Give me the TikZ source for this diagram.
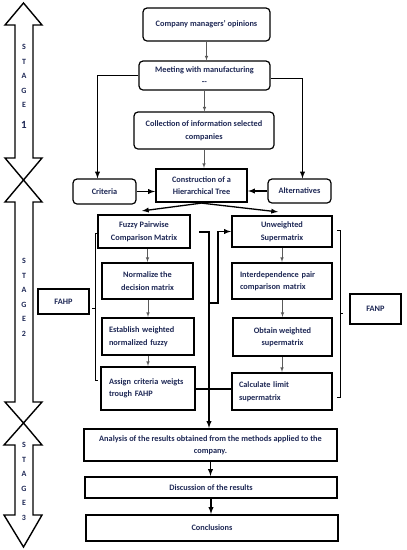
\documentclass[tikz,border=0pt]{standalone}
\usepackage{fontspec}
\setmainfont{Carlito}
\definecolor{ink}{RGB}{30, 40, 85}
\definecolor{arrowgray}{RGB}{90, 90, 90}

\begin{document}
\begin{tikzpicture}[x=1pt, y=-1pt,
  every node/.style={font=\bfseries\fontsize{8.3}{12.5}\selectfont, text=ink,
    align=center, inner sep=2pt},
  roundbox/.style={draw, rounded corners=4pt, line width=1.2pt}, % caixas arredondadas
  heavybox/.style={draw, line width=2.2pt}, % caixas grossas
  link/.style={-latex, line width=1.3pt},
  thinlink/.style={-latex, line width=0.6pt, arrowgray},
  stagearrow/.style={draw, line width=1.4pt, fill=white},
  stagetext/.style={font=\bfseries\fontsize{8}{14.5}\selectfont},
  ]
  \useasboundingbox (0,0) rectangle (407,550);

  % setas das etapas
  \draw[stagearrow] (23.5,3) -- (42,25) -- (33,25) -- (33,158) -- (42,158) -- (23.5,180)
    -- (5,158) -- (15,158) -- (15,25) -- (5,25) -- cycle;
  \draw[stagearrow] (23.5,180) -- (42,202) -- (33,202) -- (33,402) -- (42,402) -- (23.5,423)
    -- (5,402) -- (15,402) -- (15,202) -- (5,202) -- cycle;
  \draw[stagearrow] (23.5,423) -- (42,445) -- (33,445) -- (33,515) -- (42,515) -- (23.5,547)
    -- (4,515) -- (15,515) -- (15,445) -- (4,445) -- cycle;
  \node[stagetext] (stagea) at (24,86.5) {S\\T\\A\\G\\E\\[6pt]{\fontsize{11}{11}\selectfont 1}};
  \node[stagetext] (stageb) at (24,297.5) {S\\T\\A\\G\\E\\2};
  \node[stagetext] (stagec) at (24,481.5) {S\\T\\A\\G\\E\\3};

  % etapa 1
  \node[roundbox, minimum width=127pt, minimum height=33pt] (opinions) at (206.5,24.5)
    {Company managers' opinions};
  \node[roundbox, minimum width=131pt, minimum height=29pt] (meeting) at (204.5,75.5)
    {Meeting with manufacturing\\-{}-};
  \node[roundbox, minimum width=140pt, minimum height=37pt] (collection) at (204,130.5)
    {Collection of information selected\\companies};
  \node[heavybox, minimum width=91pt, minimum height=33pt] (tree) at (201.5,185.5)
    {Construction of a\\Hierarchical Tree};
  \node[roundbox, minimum width=63pt, minimum height=25pt] (criteria) at (104.5,191.5) {Criteria};
  \node[roundbox, minimum width=63pt, minimum height=24pt] (alternatives) at (299.5,191) {Alternatives};

  % etapa 2
  \node[heavybox, minimum width=92pt, minimum height=33pt] (fuzzy) at (144,231.5)
    {Fuzzy Pairwise\\Comparison Matrix};
  \node[heavybox, minimum width=91pt, minimum height=36pt] (normalize) at (147.5,281)
    {Normalize the\\decision matrix};
  \node[heavybox, minimum width=92pt, minimum height=37pt, align=left, text width=78pt]
    (establish) at (148,336.5) {Establish weighted\\normalized fuzzy};
  \node[heavybox, minimum width=94pt, minimum height=43pt, align=left, text width=78pt]
    (assign) at (148,388.5) {Assign criteria weigts\\trough FAHP};
  \node[heavybox, minimum width=100pt, minimum height=31pt] (unweighted) at (282,231.5)
    {Unweighted\\Supermatrix};
  \node[heavybox, minimum width=100pt, minimum height=36pt, align=left, text width=84pt]
    (interdep) at (282,281) {Interdependence pair\\comparison matrix};
  \node[heavybox, minimum width=99pt, minimum height=38pt] (obtain) at (282.5,337)
    {Obtain weighted\\supermatrix};
  \node[heavybox, minimum width=100pt, minimum height=37pt, align=left, text width=86pt]
    (calculate) at (282,391.5) {Calculate limit\\supermatrix};
  \node[heavybox, minimum width=51pt, minimum height=25pt] (fahp) at (63.5,301.5) {FAHP};
  \node[heavybox, minimum width=51pt, minimum height=30pt] (fanp) at (375.5,309) {FANP};

  % etapa 3
  \node[heavybox, minimum width=253pt, minimum height=32pt] (analysis) at (210.5,445)
    {Analysis of the results obtained from the methods applied to the\\company.};
  \node[heavybox, minimum width=252pt, minimum height=21pt] (discussion) at (211,487.5)
    {Discussion of the results};
  \node[heavybox, minimum width=252pt, minimum height=26pt] (conclusions) at (212,528)
    {Conclusions};

  % ligacoes
  \draw[thinlink] (opinions) -- (opinions |- meeting.north);
  \draw[thinlink] (meeting) -- (meeting |- collection.north);
  \draw[thinlink] (collection) -- (collection |- tree.north);
  \draw[link] (meeting.west) -| ([xshift=-7pt]criteria.north);
  \draw[link] ([yshift=-3pt]meeting.east) -| ([xshift=3pt]alternatives.north);
  \draw[link] (criteria) -- (criteria -| tree.west);
  \draw[link] (alternatives) -- (alternatives -| tree.east);
  \draw[link] (tree.south) -- ([xshift=-2pt,yshift=3pt]fuzzy.north);
  \draw[link] (tree.south) -- ([xshift=-4pt,yshift=3pt]unweighted.north);

  \draw[thinlink] (normalize.north |- fuzzy.south) -- (normalize.north);
  \draw[thinlink] (establish.north |- normalize.south) -- (establish.north);
  \draw[thinlink] (assign.north |- establish.south) -- (assign.north);
  \draw[thinlink] (interdep.north |- unweighted.south) -- (interdep.north);
  \draw[thinlink] (obtain.north |- interdep.south) -- (obtain.north);
  \draw[thinlink] (calculate.north |- obtain.south) -- (calculate.north);

  \coordinate (fout) at (199,232);
  \coordinate (bend) at (209,303);
  \coordinate (jn) at (209,389);
  \draw[link] (fout) -| (bend) -| ([xshift=-13pt]unweighted.west) -- (unweighted.west);
  \draw[line width=1.3pt] (bend) -- (jn);
  \draw[line width=1.3pt] (assign.east |- jn) -- (calculate.west |- jn);
  \draw[link] (jn) -- (jn |- analysis.north);
  \draw[link] (analysis) -- (analysis |- discussion.north);
  \draw[link] (discussion) -- (discussion |- conclusions.north);

  % chaves FAHP e FANP
  \draw[line width=1pt] (98,233) -- (95,233) -- (95,380) -- (98,380);
  \draw[line width=1pt] (95,308) -- (92,308);
  \draw[line width=1pt] (337,230) -- (340,230) -- (340,397) -- (337,397);
  \draw[line width=1pt] (340,313) -- (343,313);
\end{tikzpicture}
\end{document}
